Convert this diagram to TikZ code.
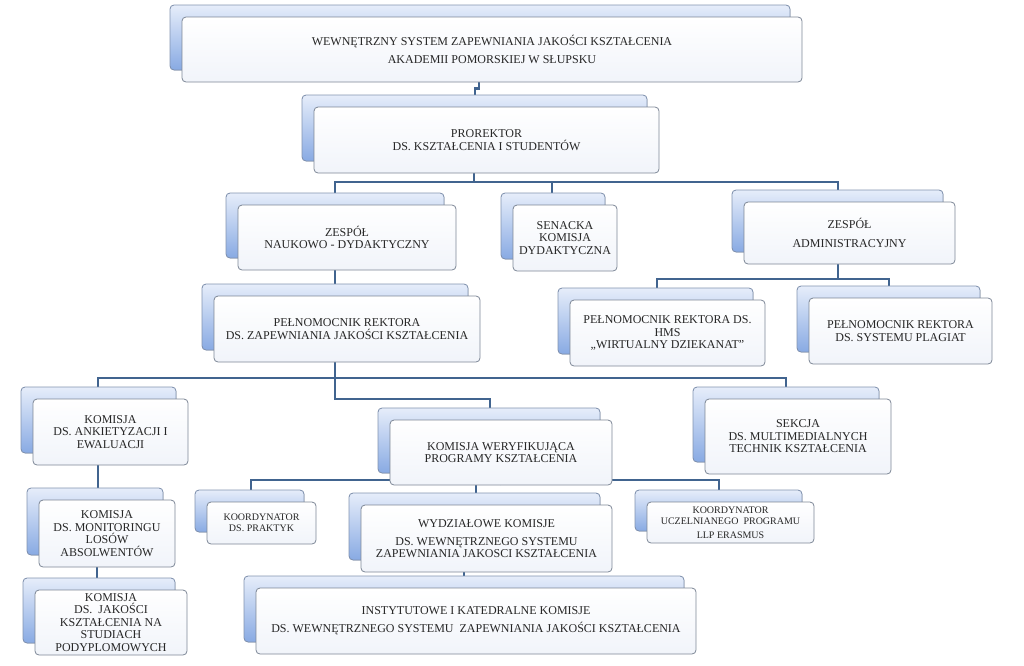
\documentclass[tikz,border=0pt]{standalone}
\usepackage{fontspec}
\setmainfont{Liberation Serif}
\usetikzlibrary{shadows}
\definecolor{orgline}{HTML}{41648F}
\definecolor{orgframe}{HTML}{7D8796}
\definecolor{orgbackframe}{HTML}{8193B0}
\definecolor{orgbacktop}{HTML}{E6EDFA}
\definecolor{orgbackbot}{HTML}{88AAE3}
\definecolor{orgpale}{HTML}{F1F4FA}
\definecolor{orgtext}{HTML}{262626}
\pgfdeclarelayer{bg}
\pgfsetlayers{bg,main}

\begin{document}
\begin{tikzpicture}[
  x=1pt, y=-1pt,
  box/.style={draw=orgframe, line width=0.8pt, rounded corners=4pt, top color=white, bottom color=orgpale, text=orgtext, align=center, inner sep=1pt, font=\fontsize{12}{12.5}\selectfont, copy shadow={shadow xshift=-12pt, shadow yshift=12pt, draw=orgbackframe, line width=0.8pt, top color=orgbacktop, bottom color=orgbackbot}},
  smallbox/.style={box, font=\fontsize{10}{11}\selectfont},
  conn/.style={draw=orgline, line width=2.2pt}
]
\useasboundingbox (0,0) rectangle (1024,665);

% top levels
\node[box, minimum width=620pt, minimum height=65pt] (top) at (492,49.5) {WEWNĘTRZNY SYSTEM ZAPEWNIANIA JAKOŚCI KSZTAŁCENIA\\[5.5pt]AKADEMII POMORSKIEJ W SŁUPSKU};
\node[box, minimum width=345pt, minimum height=66pt] (pro) at (486.5,140) {PROREKTOR\\DS. KSZTAŁCENIA I STUDENTÓW};

% second row
\node[box, minimum width=218pt, minimum height=65pt] (znd) at (347,237.5) {ZESPÓŁ\\NAUKOWO - DYDAKTYCZNY};
\node[box, minimum width=104pt, minimum height=66pt] (sen) at (565,238) {SENACKA\\KOMISJA\\DYDAKTYCZNA};
\node[box, minimum width=211pt, minimum height=62pt] (adm) at (849.5,233) {ZESPÓŁ\\[6pt]ADMINISTRACYJNY};
\node[box, minimum width=266pt, minimum height=66pt] (pzj) at (347,329) {PEŁNOMOCNIK REKTORA\\DS. ZAPEWNIANIA JAKOŚCI KSZTAŁCENIA};
\node[box, minimum width=195pt, minimum height=66pt] (hms) at (667.5,333) {PEŁNOMOCNIK REKTORA DS.\\HMS\\„WIRTUALNY DZIEKANAT"};
\node[box, minimum width=183pt, minimum height=66pt] (plag) at (900.5,331) {PEŁNOMOCNIK REKTORA\\DS. SYSTEMU PLAGIAT};

% third row
\node[box, minimum width=155pt, minimum height=66pt] (ank) at (110.5,432) {KOMISJA\\DS. ANKIETYZACJI I\\EWALUACJI};
\node[box, minimum width=222pt, minimum height=65pt] (kw) at (501,452.5) {KOMISJA WERYFIKUJĄCA\\PROGRAMY KSZTAŁCENIA};
\node[box, minimum width=186pt, minimum height=75pt] (sek) at (798,436.5) {SEKCJA\\DS. MULTIMEDIALNYCH\\TECHNIK KSZTAŁCENIA};
\node[box, minimum width=136pt, minimum height=67pt] (mon) at (107,533.5) {KOMISJA\\DS. MONITORINGU\\LOSÓW\\ABSOLWENTÓW};
\node[box, minimum width=152pt, minimum height=65pt] (pod) at (111,622.5) {KOMISJA\\DS.~ JAKOŚCI\\KSZTAŁCENIA NA\\STUDIACH\\PODYPLOMOWYCH};

% under the verifying committee
\node[smallbox, minimum width=109pt, minimum height=42pt] (kpr) at (261.5,523) {KOORDYNATOR\\DS. PRAKTYK};
\node[box, minimum width=251pt, minimum height=67pt] (wyd) at (486.5,538.5) {WYDZIAŁOWE KOMISJE\\[5.5pt]DS. WEWNĘTRZNEGO SYSTEMU\\ZAPEWNIANIA JAKOSCI KSZTAŁCENIA};
\node[smallbox, minimum width=167pt, minimum height=41pt] (era) at (730.5,522.5) {KOORDYNATOR\\UCZELNIANEGO~ PROGRAMU\\[3pt]LLP ERASMUS};
\node[box, minimum width=440pt, minimum height=66pt] (ins) at (476,621) {INSTYTUTOWE I KATEDRALNE KOMISJE\\[5.5pt]DS. WEWNĘTRZNEGO SYSTEMU~ ZAPEWNIANIA JAKOŚCI KSZTAŁCENIA};

\coordinate (b1) at (474,182);
\coordinate (b2) at (838,279);
\coordinate (b3) at (335,378);
\coordinate (b4) at (476,480);

\begin{pgfonlayer}{bg}
\draw[conn] ([xshift=-13pt]top.south) -- ++(0,6) -| ([xshift=-11.5pt]pro.north);
\draw[conn] ([xshift=-12.5pt]pro.south) -- (b1);
\draw[conn] (b1) -| ([xshift=-12pt]znd.north);
\draw[conn] (b1) -| ([xshift=-13pt]sen.north);
\draw[conn] (b1) -| ([xshift=-11.5pt]adm.north);
\draw[conn] ([xshift=-12pt]znd.south) -- ([xshift=-12pt]pzj.north);
\draw[conn] ([xshift=-11.5pt]adm.south) -- (b2);
\draw[conn] (b2) -| ([xshift=-10.5pt]hms.north);
\draw[conn] (b2) -| ([xshift=-11.5pt]plag.north);
\draw[conn] ([xshift=-12pt]pzj.south) -- (b3);
\draw[conn] (b3) -| ([xshift=-12.5pt]ank.north);
\draw[conn] (b3) -| ([xshift=-12pt]sek.north);
\draw[conn] (b3) -- ++(0,21) -| ([xshift=-11pt]kw.north);
\draw[conn] ([xshift=-12.5pt]ank.south) -- ([xshift=-9pt]mon.north);
\draw[conn] ([xshift=-10pt]mon.south) -- ([xshift=-14pt]pod.north);
\draw[conn] (kw) |- (b4);
\draw[conn] (b4) -| ([xshift=-10.5pt]kpr.north);
\draw[conn] (b4) -| ([xshift=-11.5pt]era.north);
\draw[conn] (b4) -- ([xshift=-10.5pt]wyd.north);
\draw[conn] ([xshift=-22.5pt]wyd.south) -- ([xshift=-12pt]ins.north);
\end{pgfonlayer}
\end{tikzpicture}
\end{document}
